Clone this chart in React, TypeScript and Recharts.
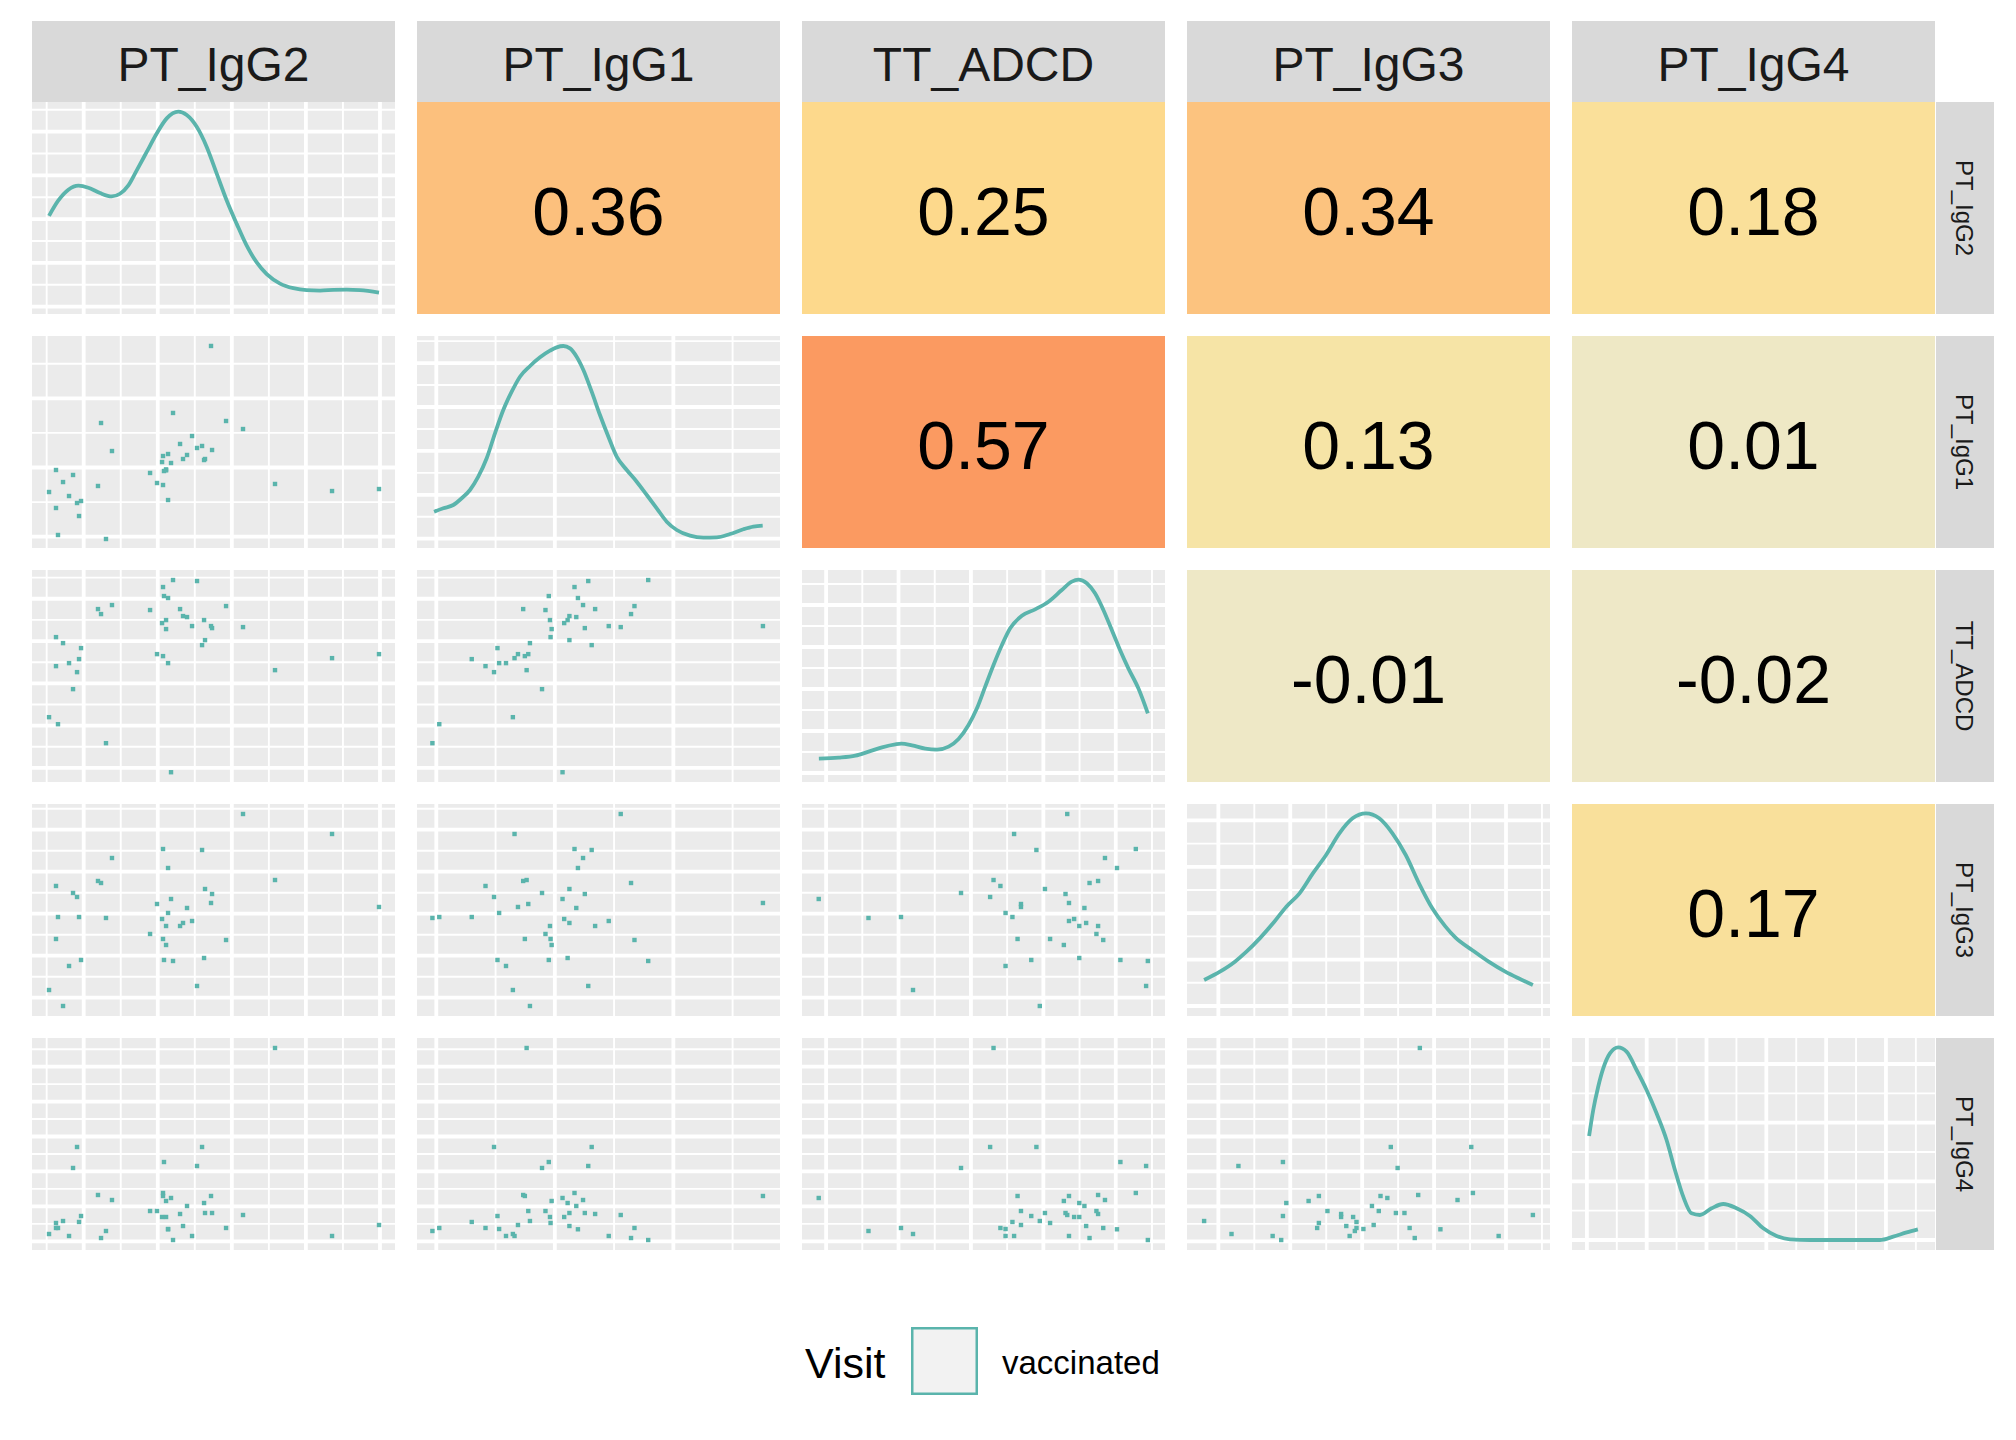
import { LineChart, Line, ScatterChart, Scatter, XAxis, YAxis, ReferenceLine } from 'recharts';

// ggpairs-style matrix: density on the diagonal, scatter below, correlation above.

const FONT = '"Liberation Sans", Arial, Helvetica, sans-serif';
const TEAL = '#5AB4AC';
const PANEL_BG = '#EBEBEB';
const STRIP_BG = '#D9D9D9';

const VARS = ['PT_IgG2', 'PT_IgG1', 'TT_ADCD', 'PT_IgG3', 'PT_IgG4'];

// one value per subject (41), same subject order in every array
const PT_IgG2 = [
  0.532, 0.626, 0.626, 0.653, 0.721, 0.802, 0.856, 0.910, 0.937, 0.964,
  1.193, 1.234, 1.301, 1.382, 1.896, 1.990, 2.058, 2.071, 2.071, 2.084,
  2.112, 2.112, 2.139, 2.139, 2.179, 2.206, 2.301, 2.341, 2.395, 2.463,
  2.530, 2.598, 2.625, 2.638, 2.719, 2.733, 2.922, 3.151, 3.583, 4.353, 4.987,
];
const PT_IgG1 = [
  0.646, 0.964, 0.415, 0.025, 0.790, 0.588, 0.892, 0.487, 0.299, 0.516,
  0.733, 1.643, -0.033, 1.238, 0.921, 0.776, 1.079, 1.166, 0.747, 0.949,
  0.959, 0.973, 1.195, 0.530, 1.065, 1.788, 1.340, 1.123, 1.181, 1.455,
  1.282, 1.311, 1.108, 1.123, 2.756, 1.253, 1.672, 1.556, 0.762, 0.660, 0.689,
];
const TT_ADCD = [
  1.200, 3.093, 2.407, 1.034, 2.951, 2.478, 1.863, 2.265, 2.573, 2.833,
  3.756, 3.638, 0.585, 3.851, 3.733, 2.691, 3.425, 4.277, 2.644, 4.064,
  3.496, 3.283, 4.017, 2.478, -0.102, 4.443, 3.756, 3.591, 3.567, 3.354,
  4.419, 2.904, 3.496, 3.022, 3.354, 3.306, 3.827, 3.330, 2.312, 2.596, 2.691,
];
const PT_IgG3 = [
  0.183, 1.398, 2.660, 1.921, -0.198, 0.755, 2.493, 2.398, 1.921, 0.898,
  2.779, 2.731, 1.898, 3.326, 1.517, 2.231, 1.874, 3.540, 1.398, 0.898,
  1.707, 1.255, 3.088, 2.017, 2.350, 0.874, 1.707, 1.779, 2.136, 1.826,
  0.279, 3.517, 0.945, 2.588, 2.255, 2.469, 1.374, 4.374, 2.802, 3.898, 2.160,
];
const PT_IgG4 = [
  0.209, 0.524, 0.381, 0.381, 0.581, 0.152, 2.099, 2.700, 0.553, 0.724,
  1.326, 0.094, 0.295, 1.182, 0.867, 0.867, 0.696, 1.383, 1.297, 2.270,
  0.696, 1.154, 0.344, 0.352, 1.240, 0.037, 0.782, 0.438, 1.011, 0.152,
  2.156, 2.700, 1.096, 0.810, 1.297, 0.810, 0.381, 0.753, 5.534, 0.152, 0.467,
];
const VALUES = [PT_IgG2, PT_IgG1, TT_ADCD, PT_IgG3, PT_IgG4];

// axis limits of each variable (data range + 5%) and its grid breaks
const LIMITS = [[0.302, 5.203], [-0.163, 2.9], [-0.333, 4.68], [-0.436, 4.612], [-0.249, 5.82]];
const MAJOR = [[1, 2, 3, 4, 5], [0, 1, 2], [0, 1, 2, 3, 4], [0, 1, 2, 3, 4], [0, 1, 2, 3, 4, 5]];
const MINOR = [
  [0.5, 1.5, 2.5, 3.5, 4.5], [0.5, 1.5, 2.5], [0.5, 1.5, 2.5, 3.5, 4.5],
  [0.5, 1.5, 2.5, 3.5, 4.5], [0.5, 1.5, 2.5, 3.5, 4.5, 5.5],
];

// density curves: [value, density]
const densIgG2 = [
  [0.532, 4.15], [0.658, 4.853], [0.793, 5.344], [0.928, 5.528], [1.063, 5.436], [1.22, 5.191],
  [1.378, 5.038], [1.49, 5.16], [1.603, 5.542], [1.716, 6.23], [1.851, 7.071], [1.986, 7.915],
  [2.121, 8.604], [2.278, 8.909], [2.391, 8.756], [2.526, 8.219], [2.661, 7.3], [2.796, 6.079],
  [2.931, 4.853], [3.066, 3.783], [3.201, 2.787], [3.336, 2.02], [3.471, 1.487], [3.651, 1.056],
  [3.831, 0.845], [4.011, 0.753], [4.191, 0.735], [4.371, 0.767], [4.551, 0.781], [4.731, 0.753],
  [4.987, 0.643],
];
const densIgG1 = [
  [-0.019, 1.23], [0.059, 1.385], [0.143, 1.535], [0.214, 1.841], [0.284, 2.219], [0.354, 2.825],
  [0.425, 3.663], [0.495, 4.802], [0.565, 5.863], [0.636, 6.697], [0.706, 7.38], [0.791, 7.868],
  [0.875, 8.263], [0.959, 8.565], [1.016, 8.718], [1.072, 8.779], [1.128, 8.673], [1.184, 8.292],
  [1.241, 7.686], [1.311, 6.697], [1.381, 5.636], [1.452, 4.647], [1.522, 3.736], [1.607, 3.13],
  [1.691, 2.597], [1.776, 1.991], [1.86, 1.385], [1.944, 0.775], [2.029, 0.396], [2.141, 0.137],
  [2.253, 0.046], [2.366, 0.061], [2.478, 0.214], [2.591, 0.428], [2.675, 0.547], [2.754, 0.592],
];
const densADCD = [
  [-0.1, 0.683], [0.174, 0.73], [0.404, 0.825], [0.588, 1.016], [0.772, 1.222], [0.956, 1.365],
  [1.039, 1.397], [1.186, 1.317], [1.37, 1.159], [1.531, 1.111], [1.692, 1.254], [1.829, 1.619],
  [1.967, 2.286], [2.083, 3.079], [2.197, 4.111], [2.312, 5.143], [2.428, 6.095], [2.542, 6.889],
  [2.703, 7.492], [2.887, 7.794], [3.071, 8.159], [3.255, 8.714], [3.393, 9.111], [3.485, 9.206],
  [3.6, 9.032], [3.714, 8.556], [3.829, 7.762], [3.945, 6.81], [4.059, 5.857], [4.174, 4.984],
  [4.312, 4.032], [4.443, 2.841],
];
const densIgG3 = [
  [-0.198, 1.121], [0.022, 1.48], [0.23, 1.911], [0.391, 2.342], [0.576, 2.917], [0.76, 3.563],
  [0.945, 4.282], [1.129, 4.856], [1.314, 5.718], [1.498, 6.509], [1.683, 7.443], [1.867, 8.09],
  [2.052, 8.305], [2.237, 8.09], [2.421, 7.443], [2.606, 6.509], [2.79, 5.287], [2.975, 4.21],
  [3.159, 3.42], [3.298, 2.945], [3.528, 2.414], [3.759, 1.911], [3.99, 1.48], [4.174, 1.193],
  [4.374, 0.905],
];
const densIgG4 = [
  [0.037, 3.546], [0.106, 4.432], [0.189, 5.227], [0.273, 5.852], [0.385, 6.364], [0.524, 6.569],
  [0.663, 6.421], [0.831, 5.796], [0.998, 5.114], [1.165, 4.319], [1.332, 3.409], [1.472, 2.387],
  [1.611, 1.477], [1.75, 0.909], [1.89, 0.852], [2.085, 1.08], [2.28, 1.227], [2.503, 1.08],
  [2.726, 0.818], [2.949, 0.398], [3.172, 0.136], [3.395, 0.023], [3.729, 0], [4.286, 0],
  [4.9, 0], [5.122, 0.114], [5.346, 0.261], [5.534, 0.364],
];
const DENS = [densIgG2, densIgG1, densADCD, densIgG3, densIgG4];
const DENS_LIMITS = [[-0.335, 9.353], [-0.424, 9.235], [-0.429, 9.667], [-0.431, 8.707], [-0.341, 6.887]];
const DENS_MAJOR = [[0, 2, 4, 6, 8], [0, 2, 4, 6, 8], [0, 2, 4, 6, 8], [0, 2, 4, 6, 8], [0, 2, 4, 6]];
const DENS_MINOR = [[1, 3, 5, 7, 9], [1, 3, 5, 7, 9], [1, 3, 5, 7, 9], [1, 3, 5, 7], [1, 3, 5]];

// upper triangle: correlation and its cell colour
const CORR = [
  [null, 0.36, 0.25, 0.34, 0.18],
  [null, null, 0.57, 0.13, 0.01],
  [null, null, null, -0.01, -0.02],
  [null, null, null, null, 0.17],
];
const CORR_FILL = [
  [null, '#FCC07D', '#FDD98C', '#FCC37F', '#FAE09A'],
  [null, null, '#FB9A61', '#F6E4A6', '#EEE8C5'],
  [null, null, null, '#EEE8C6', '#EEE8C7'],
  [null, null, null, null, '#F9E09B'],
];

const LEGEND_TITLE = 'Visit';
const LEGEND_LABEL = 'vaccinated';

// layout
const W = 363;
const H = 212;
const LEFT0 = 32;
const TOP0 = 102;
const STEP_X = 385;
const STEP_Y = 234;
const MARGIN = { top: 0, right: 0, bottom: 0, left: 0 };

const px = (c: number) => LEFT0 + c * STEP_X;
const py = (r: number) => TOP0 + r * STEP_Y;

function gridLines(axis: 'x' | 'y', major: number[], minor: number[]) {
  const out: any[] = [];
  minor.forEach((v) => out.push(axis === 'x'
    ? <ReferenceLine key={`xm${v}`} x={v} stroke="#fff" strokeWidth={1.9} />
    : <ReferenceLine key={`ym${v}`} y={v} stroke="#fff" strokeWidth={1.9} />));
  major.forEach((v) => out.push(axis === 'x'
    ? <ReferenceLine key={`xM${v}`} x={v} stroke="#fff" strokeWidth={3.8} />
    : <ReferenceLine key={`yM${v}`} y={v} stroke="#fff" strokeWidth={3.8} />));
  return out;
}

const Square = (p: any) => (
  <rect x={p.cx - 2.2} y={p.cy - 2.2} width={4.4} height={4.4} fill={TEAL} />
);

function DiagPanel({ i }: { i: number }) {
  const data = DENS[i].map(([x, d]) => ({ x, d }));
  return (
    <LineChart width={W} height={H} data={data} margin={MARGIN}>
      <XAxis type="number" dataKey="x" domain={LIMITS[i]} hide allowDataOverflow />
      <YAxis type="number" domain={DENS_LIMITS[i]} hide allowDataOverflow />
      {gridLines('x', MAJOR[i], MINOR[i])}
      {gridLines('y', DENS_MAJOR[i], DENS_MINOR[i])}
      <Line type="monotone" dataKey="d" stroke={TEAL} strokeWidth={3.8} dot={false} isAnimationActive={false} />
    </LineChart>
  );
}

function ScatterPanel({ r, c }: { r: number; c: number }) {
  const data = VALUES[c].map((x, k) => ({ x, y: VALUES[r][k] }));
  return (
    <ScatterChart width={W} height={H} margin={MARGIN}>
      <XAxis type="number" dataKey="x" domain={LIMITS[c]} hide allowDataOverflow />
      <YAxis type="number" dataKey="y" domain={LIMITS[r]} hide allowDataOverflow />
      {gridLines('x', MAJOR[c], MINOR[c])}
      {gridLines('y', MAJOR[r], MINOR[r])}
      <Scatter data={data} shape={Square} isAnimationActive={false} />
    </ScatterChart>
  );
}

export default function App() {
  const panels: any[] = [];
  for (let r = 0; r < 5; r++) {
    for (let c = 0; c < r + 1; c++) {
      panels.push(
        <div key={`p${r}${c}`} style={{ position: 'absolute', left: px(c), top: py(r), width: W, height: H, background: PANEL_BG }}>
          {r === c ? <DiagPanel i={c} /> : <ScatterPanel r={r} c={c} />}
        </div>,
      );
    }
  }

  return (
    <div style={{ position: 'absolute', left: 0, top: 0, width: 2016, height: 1440, background: '#fff', fontFamily: FONT }}>
      <svg width={2016} height={1440} style={{ position: 'absolute', left: 0, top: 0 }}>
        {VARS.map((v, c) => (
          <g key={`ts${c}`}>
            <rect x={px(c)} y={21} width={W} height={81} fill={STRIP_BG} />
            <text x={px(c) + W / 2} y={81} textAnchor="middle" fontSize={48} fill="#1A1A1A" fontFamily={FONT}>{v}</text>
          </g>
        ))}
        {VARS.map((v, r) => (
          <g key={`rs${r}`}>
            <rect x={1936} y={py(r)} width={58} height={H} fill={STRIP_BG} />
            <text transform={`translate(1956, ${py(r) + H / 2}) rotate(90)`} textAnchor="middle" fontSize={24} fill="#1A1A1A" fontFamily={FONT}>{v}</text>
          </g>
        ))}
        {CORR.map((row, r) => row.map((val, c) => (val === null ? null : (
          <g key={`c${r}${c}`}>
            <rect x={px(c)} y={py(r)} width={W} height={H} fill={CORR_FILL[r][c] as string} />
            <text x={px(c) + W / 2} y={py(r) + 133} textAnchor="middle" fontSize={68} fill="#000" fontFamily={FONT}>
              {val.toFixed(2)}
            </text>
          </g>
        ))))}
        <text x={805} y={1378} fontSize={43} fill="#000" fontFamily={FONT}>{LEGEND_TITLE}</text>
        <rect x={912.25} y={1328.25} width={64.5} height={65.5} fill="#F2F2F2" stroke={TEAL} strokeWidth={2.5} />
        <text x={1002} y={1374} fontSize={33} fill="#000" fontFamily={FONT}>{LEGEND_LABEL}</text>
      </svg>
      {panels}
    </div>
  );
}
